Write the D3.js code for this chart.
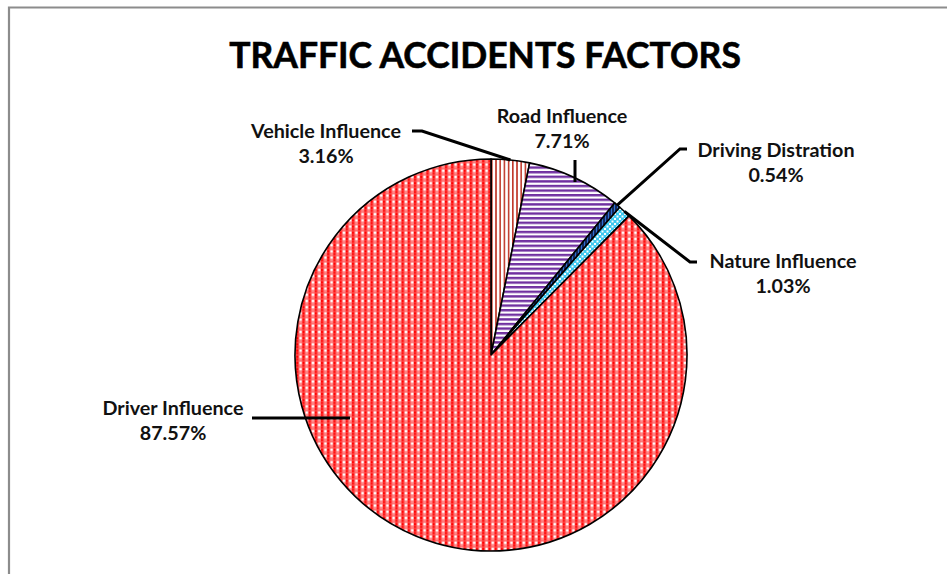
<!DOCTYPE html>
<html><head><meta charset="utf-8">
<script src="https://cdn.jsdelivr.net/npm/d3@7"></script>
<style>html,body{margin:0;padding:0;background:#fff;overflow:hidden}</style>
</head><body>
<svg id="c" width="947" height="574"></svg>
<script>
const categories = ["Vehicle Influence","Road Influence","Driving Distration","Nature Influence","Driver Influence"];
const values = [3.16, 7.71, 0.54, 1.03, 87.57];
const valueLabels = ["3.16%","7.71%","0.54%","1.03%","87.57%"];
const title = "TRAFFIC ACCIDENTS FACTORS";

const svg = d3.select("#c");
const W = 947, H = 574;
svg.append("rect").attr("width",W).attr("height",H).attr("fill","#fff");
// chart border
svg.append("path").attr("d","M9,574 L9,7.5 L947,7.5").attr("fill","none").attr("stroke","#8c8c8c").attr("stroke-width",2.2);

const defs = svg.append("defs");
// Vehicle: vertical red stripes
let p = defs.append("pattern").attr("id","pVeh").attr("patternUnits","userSpaceOnUse").attr("width",4.2).attr("height",4.2);
p.append("rect").attr("width",4.2).attr("height",4.2).attr("fill","#fff");
p.append("rect").attr("width",1.6).attr("height",4.2).attr("fill","#c0392b");
// Road: horizontal purple stripes
p = defs.append("pattern").attr("id","pRoad").attr("patternUnits","userSpaceOnUse").attr("width",5).attr("height",4.6);
p.append("rect").attr("width",5).attr("height",4.6).attr("fill","#fff");
p.append("rect").attr("width",5).attr("height",2.4).attr("fill","#7030a0");
// Driving distraction: dark navy with blue
p = defs.append("pattern").attr("id","pDist").attr("patternUnits","userSpaceOnUse").attr("width",3).attr("height",3);
p.append("rect").attr("width",3).attr("height",3).attr("fill","#14285a");
p.append("rect").attr("width",1).attr("height",3).attr("fill","#2f6fd0");
// Nature: cyan checks
p = defs.append("pattern").attr("id","pNat").attr("patternUnits","userSpaceOnUse").attr("width",5).attr("height",5);
p.append("rect").attr("width",5).attr("height",5).attr("fill","#3cc8f0");
p.append("rect").attr("x",0.5).attr("y",0.5).attr("width",2).attr("height",2).attr("fill","#fff");
p.append("rect").attr("x",3).attr("y",3).attr("width",2).attr("height",2).attr("fill","#fff");
// Driver: red/white gingham
const cs = 6.2;
p = defs.append("pattern").attr("id","pDrv").attr("patternUnits","userSpaceOnUse").attr("width",cs).attr("height",cs);
p.append("rect").attr("width",cs).attr("height",cs).attr("fill","#ff5c5c");
p.append("rect").attr("x",0.5).attr("y",0.5).attr("width",2.6).attr("height",2.6).attr("fill","#ffffff");
p.append("rect").attr("x",3.6).attr("y",0.5).attr("width",2.1).attr("height",2.6).attr("fill","#ff0000");
p.append("rect").attr("x",0.5).attr("y",3.6).attr("width",2.6).attr("height",2.1).attr("fill","#ff8a8a");
p.append("rect").attr("x",3.6).attr("y",3.6).attr("width",2.1).attr("height",2.1).attr("fill","#ff1010");

const fills = ["url(#pVeh)","url(#pRoad)","url(#pDist)","url(#pNat)","url(#pDrv)"];

const cx = 491, cy = 355, R = 196;
const pie = d3.pie().sort(null).value(d=>d);
const arcs = pie(values);
const arc = d3.arc().innerRadius(0).outerRadius(R);
const g = svg.append("g").attr("transform",`translate(${cx},${cy})`);
g.selectAll("path.slice").data(arcs).join("path").attr("class","slice")
  .attr("d",arc).attr("fill",(d,i)=>fills[i]).attr("stroke","#000").attr("stroke-width",1.6).attr("stroke-linejoin","round");

function onArc(d, r){ const a=(d.startAngle+d.endAngle)/2; return [cx + r*Math.sin(a), cy - r*Math.cos(a)]; }

// leader lines
const lines = [
  [[412,131],[422,131],onArc(arcs[0],R)],
  [[575,160],[575,182]],
  [[687,149],[680,149],onArc(arcs[2],R)],
  [onArc(arcs[3],R),[690,262],[697,262]],
  [[252,418],[350,418]]
];
svg.selectAll("path.lead").data(lines).join("path").attr("class","lead")
  .attr("d",d=>d3.line()(d)).attr("fill","none").attr("stroke","#000").attr("stroke-width",3);

// labels
const labelPos = [[326,138],[562,123],[776,157],[783,268],[173,415]];
const font = "Lato, 'Open Sans', sans-serif";
const labels = [];
categories.forEach((c,i)=>{
  const t = svg.append("text").attr("x",labelPos[i][0]).attr("y",labelPos[i][1])
    .attr("text-anchor","middle").attr("font-family",font).attr("font-weight","bold")
    .attr("font-size",17).attr("fill","#111");
  t.append("tspan").attr("x",labelPos[i][0]).text(c);
  t.append("tspan").attr("x",labelPos[i][0]).attr("dy",25).text(valueLabels[i]);
  labels.push(t);
});
const w0 = labels[0].select("tspan").node().getComputedTextLength();
const lfs = 17*150/w0;
labels.forEach(t=>t.attr("font-size",lfs));

const tt = svg.append("text").attr("x",485).attr("y",68).attr("text-anchor","middle")
  .attr("font-family",font).attr("font-weight","bold").attr("font-size",30).attr("fill","#000")
  .attr("stroke","#000").attr("stroke-width",0.6).text(title);
const tw = tt.node().getComputedTextLength();
tt.attr("font-size", 30*512/tw);
</script>
</body></html>
